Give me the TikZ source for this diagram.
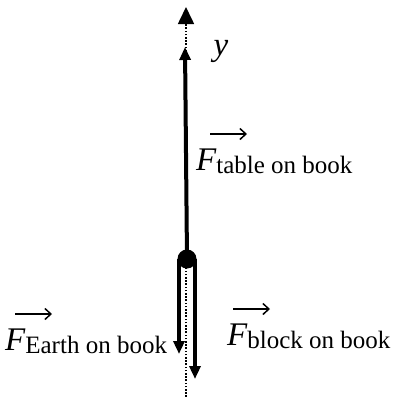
\documentclass[tikz,border=0pt]{standalone}
\usepackage{fontspec}
\setmainfont{Liberation Serif}
\usetikzlibrary{arrows.meta}

\tikzset{
axisline/.style={
  line width=1.6pt,
  dash pattern=on 1.6pt off 1.6pt,
  -{Triangle[length=17pt,width=16pt]}
},
forcearrow/.style={
  line width=4pt,
  -{Triangle[length=13pt,width=11pt]}
},
vecarrow/.style={
  line width=1.5pt,
  -{Straight Barb[length=6pt,width=11pt]}
},
bookdot/.style={
  circle,
  fill=black,
  inner sep=0pt,
  minimum size=19pt
},
forcelabel/.style={
  anchor=base west,
  inner sep=0pt,
  font=\fontsize{33}{33}\selectfont
}
}

% F with lowered subscript
\newcommand{\forcelbl}[1]{%
  {\itshape F}\raisebox{-3pt}{\fontsize{25}{25}\selectfont #1}}

\begin{document}
\begin{tikzpicture}[x=1pt,y=-1pt]
  \useasboundingbox (0,0) rectangle (393,397);

  % y axis
  \coordinate (axisbot) at (186,397);
  \coordinate (axistop) at (186,7);
  \draw[axisline] (axisbot) -- (axistop);
  \node[font=\fontsize{33}{33}\selectfont\itshape, inner sep=0pt] (ylab) at (221,51) {y};

  % the book
  \node[bookdot] (book) at (187,259) {};

  % forces
  \coordinate (tableend) at (185,47);
  \coordinate (earthend) at (179,354);
  \coordinate (blockend) at (195,379);
  \draw[forcearrow] (book.center) -- (tableend);
  \draw[forcearrow] (book.center -| earthend) -- (earthend);
  \draw[forcearrow] (book.center -| blockend) -- (blockend);

  % labels
  \node[forcelabel] (tablelab) at (196,170) {\forcelbl{table on book}};
  \node[forcelabel] (earthlab) at (5,350) {\forcelbl{Earth on book}};
  \node[forcelabel] (blocklab) at (227,345) {\forcelbl{block on book}};

  % vector arrows over F
  \foreach \lab/\dx in {tablelab/14, earthlab/10, blocklab/6}
    \draw[vecarrow] ([xshift=\dx pt,yshift=36pt]\lab.base west) -- ++(37,0);
\end{tikzpicture}
\end{document}
